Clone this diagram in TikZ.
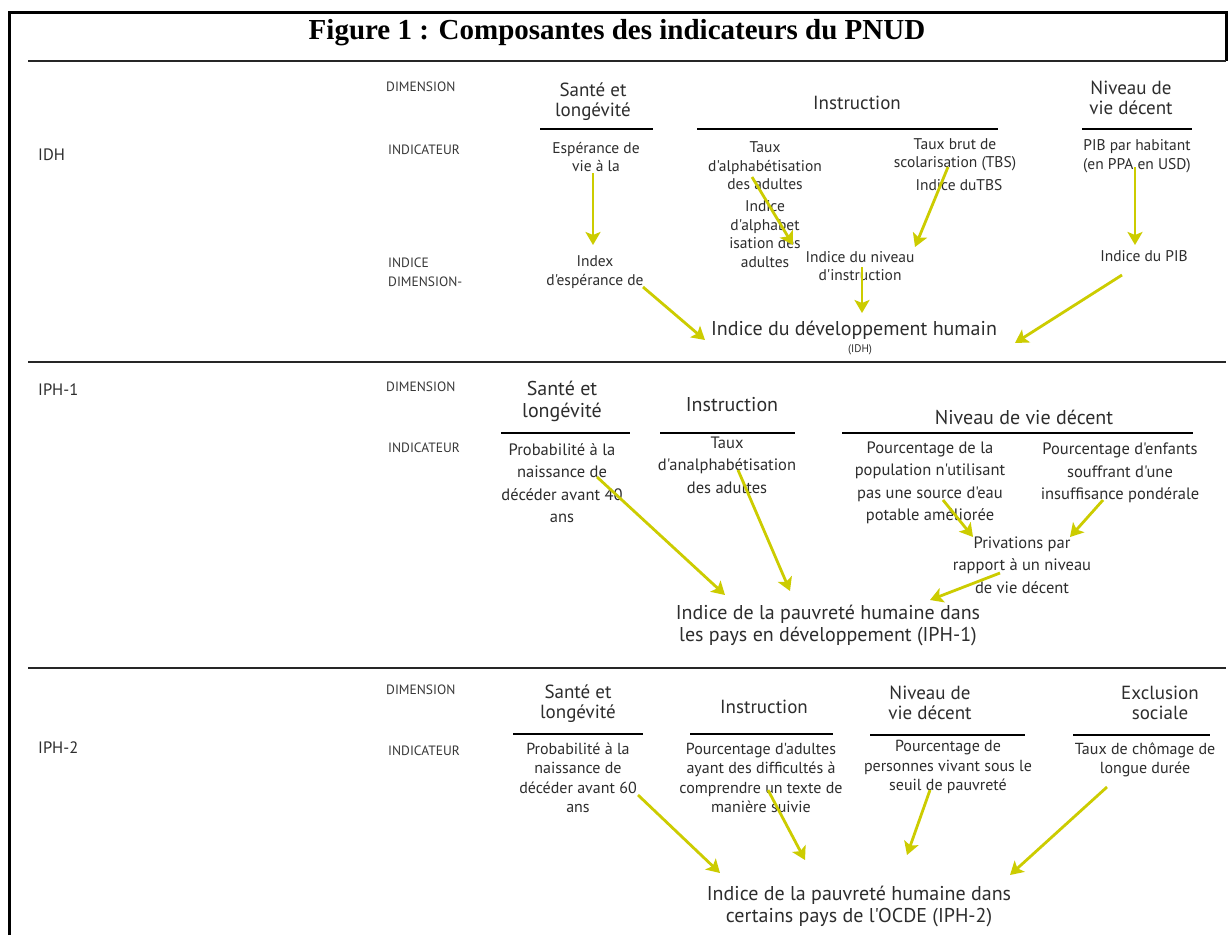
\documentclass[tikz,border=0pt]{standalone}
\usepackage{fontspec}
\setmainfont{Liberation Serif}
\newfontfamily\lab{PT Sans}
\usetikzlibrary{arrows.meta,calc}
\definecolor{arrcol}{RGB}{204,204,0}
\definecolor{txt}{RGB}{45,45,45}
\begin{document}
\begin{tikzpicture}[x=1pt,y=-1pt,
  every node/.style={inner sep=0pt, text=txt},
  lbl/.style={anchor=west, font=\lab\fontsize{13.5}{19}\selectfont, text=black!78, align=left},
  rowl/.style={anchor=west, font=\lab\fontsize{16.5}{18}\selectfont},
  headA/.style={font=\lab\fontsize{19}{20}\selectfont, align=center},
  headB/.style={font=\lab\fontsize{20}{22}\selectfont, align=center},
  indA/.style={font=\lab\fontsize{15.5}{18.5}\selectfont, align=center},
  indB/.style={font=\lab\fontsize{16.5}{22.5}\selectfont, align=center},
  indC/.style={font=\lab\fontsize{16}{19.5}\selectfont, align=center},
  res/.style={font=\lab\fontsize{20}{22}\selectfont, align=center},
  sepline/.style={line width=2pt, draw=black!85},
  uline/.style={line width=1.8pt, draw=black},
  arr/.style={line width=2.8pt, draw=arrcol, -{Stealth[length=13pt,width=15pt,inset=3pt]}}
]
\useasboundingbox (0,0) rectangle (1231,935);
\fill[white] (0,0) rectangle (1231,935);
% frame
\draw[line width=3pt] (9,935) -- (9,12) -- (1226,12) -- (1226,61);
\draw[sepline] (28,61) -- (1226,61);
\draw[sepline] (28,362) -- (1226,362);
\draw[sepline] (28,668) -- (1226,668);
% title
\node[text=black] (title) at (617,33) {\fontsize{29}{32}\selectfont\bfseries Figure 1 : Composantes des indicateurs du PNUD};

% ================= IDH =================
\node[rowl] (rIDH) at (38,155) {IDH};
\node[lbl] (lDim1) at (386,87) {DIMENSION};
\node[lbl] (lInd1) at (388,150) {INDICATEUR};
\node[lbl] (lIdc1) at (388,272) {INDICE\\DIMENSION-};
\node[headA] (hSante1) at (593,102) {Santé et\\longévité};
\node[headA] (hInstr1) at (857,103) {Instruction};
\node[headA] (hNiv1) at (1131,98) {Niveau de\\vie décent};
\draw[uline] (540,129) -- (653,129);
\draw[uline] (697,129) -- (998,129);
\draw[uline] (1082,129) -- (1192,129);
\node[indA] (iEsp) at (596,157) {Espérance de\\vie à la};
\node[indA] (iTaux) at (765,166) {Taux\\d'alphabétisation\\des adultes};
\node[indA] (iTBS) at (955,155) {Taux brut de\\scolarisation (TBS)};
\node[indA] (iTBSi) at (959,185) {Indice duTBS};
\node[indA] (iPIB) at (1137,156) {PIB par habitant\\(en PPA en USD)};
\node[indA] (xIdx) at (595,272) {Index\\d'espérance de};
\node[indA] (xAlph) at (765,234) {Indice\\d'alphabet\\isation des\\adultes};
\node[indA] (xNiv) at (860,266) {Indice du niveau\\d'instruction};
\node[indA] (xPIB) at (1144,256) {Indice du PIB};
\node[res] (resIDH) at (854,330) {Indice du développement humain};
\node[font=\lab\fontsize{11}{13}\selectfont] (resIDHs) at (860,350) {(IDH)};
\draw[arr] ($(iEsp.center)+(-3,16)$) -- ($(xIdx.center)+(-2,-27)$);
\draw[arr] ($(xIdx.center)+(48,15)$) -- ($(resIDH.center)+(-149,10)$);
\draw[arr] ($(iTaux.center)+(-13,11)$) -- ($(xNiv.center)+(-67,-21)$);
\draw[arr] ($(iTBS.center)+(-7,12)$) -- ($(xNiv.center)+(55,-19)$);
\draw[arr] ($(iPIB.center)+(-2,11)$) -- ($(xPIB.center)+(-9,-11)$);
\draw[arr] ($(xNiv.center)+(2,1)$) -- ($(resIDH.center)+(8,-17)$);
\draw[arr] ($(xPIB.center)+(-22,19)$) -- ($(resIDH.center)+(161,13)$);

% ================= IPH-1 =================
\node[rowl] (rIPH1) at (38,390) {IPH-1};
\node[lbl] (lDim2) at (386,387) {DIMENSION};
\node[lbl] (lInd2) at (388,448) {INDICATEUR};
\node[headB] (hSante2) at (562,401) {Santé et\\longévité};
\node[headB] (hInstr2) at (732,405) {Instruction};
\node[headB] (hNiv2) at (1024,417) {Niveau de vie décent};
\draw[uline] (501,433) -- (630,433);
\draw[uline] (660,433) -- (795,433);
\draw[uline] (842,433) -- (1193,433);
\node[indB] (iProb1) at (562,483) {Probabilité à la\\naissance de\\décéder avant 40\\ans};
\node[indB] (iTaux2) at (727,465) {Taux\\d'analphabétisation\\des adultes};
\node[indB] (iEau) at (930,483) {Pourcentage de la\\population n'utilisant\\pas une source d'eau\\potable améliorée};
\node[indB] (iEnf) at (1120,473) {Pourcentage d'enfants\\souffrant d'une\\insuffisance pondérale};
\node[indB] (xPriv) at (1022,565) {Privations par\\rapport à un niveau\\de vie décent};
\node[res] (resIPH1) at (828,625) {Indice de la pauvreté humaine dans\\les pays en développement (IPH-1)};
\draw[arr] ($(iProb1.center)+(35,-6)$) -- ($(resIPH1.center)+(-103,-30)$);
\draw[arr] ($(iTaux2.center)+(11,5)$) -- ($(resIPH1.center)+(-38,-34)$);
\draw[arr] ($(iEau.center)+(13,17)$) -- ($(xPriv.center)+(-49,-28)$);
\draw[arr] ($(iEnf.center)+(-17,27)$) -- ($(xPriv.center)+(48,-28)$);
\draw[arr] ($(xPriv.center)+(-22,8)$) -- ($(resIPH1.center)+(102,-25)$);

% ================= IPH-2 =================
\node[rowl] (rIPH2) at (38,748) {IPH-2};
\node[lbl] (lDim3) at (386,690) {DIMENSION};
\node[lbl] (lInd3) at (388,751) {INDICATEUR};
\node[headA] (hSante3) at (578,704) {Santé et\\longévité};
\node[headA] (hInstr3) at (764,707) {Instruction};
\node[headA] (hNiv3) at (930,703) {Niveau de\\vie décent};
\node[headA] (hExcl) at (1160,703) {Exclusion\\sociale};
\draw[uline] (513,734) -- (643,734);
\draw[uline] (690,734) -- (833,734);
\draw[uline] (870,735) -- (1025,735);
\draw[uline] (1073,735) -- (1210,735);
\node[indC] (iProb2) at (578,778) {Probabilité à la\\naissance de\\décéder avant 60\\ans};
\node[indC] (iAdul) at (761,778) {Pourcentage d'adultes\\ayant des difficultés à\\comprendre un texte de\\manière suivie};
\node[indC] (iPauv) at (948,767) {Pourcentage de\\personnes vivant sous le\\seuil de pauvreté};
\node[indC] (iChom) at (1145,760) {Taux de chômage de\\longue durée};
\node[res] (resIPH2) at (859,906) {Indice de la pauvreté humaine dans\\certains pays de l'OCDE (IPH-2)};
\draw[arr] ($(iProb2.center)+(60,17)$) -- ($(resIPH2.center)+(-139,-33)$);
\draw[arr] ($(iAdul.center)+(7,12)$) -- ($(resIPH2.center)+(-54,-46)$);
\draw[arr] ($(iPauv.center)+(-18,23)$) -- ($(resIPH2.center)+(48,-51)$);
\draw[arr] ($(iChom.center)+(-38,27)$) -- ($(resIPH2.center)+(151,-31)$);
\end{tikzpicture}
\end{document}
